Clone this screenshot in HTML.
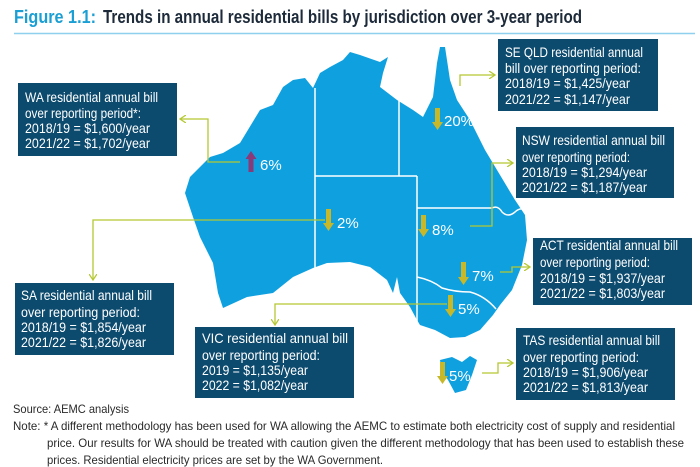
<!DOCTYPE html>
<html><head><meta charset="utf-8"><style>
html,body{margin:0;padding:0;background:#fff;}
svg{display:block;font-family:"Liberation Sans",sans-serif;}
</style></head><body>
<svg width="700" height="467" viewBox="0 0 700 467" xmlns="http://www.w3.org/2000/svg">
<defs>
<marker id="ah" markerWidth="8" markerHeight="8" refX="6" refY="4" orient="auto" markerUnits="userSpaceOnUse">
<path d="M0,0 L6,4 L0,8" fill="none" stroke="#b5c832" stroke-width="1.3"/></marker>
</defs>
<text x="14" y="23" font-size="18" font-weight="bold" fill="#1a9fd4" textLength="82" lengthAdjust="spacingAndGlyphs">Figure 1.1:</text>
<text x="103" y="23" font-size="18" font-weight="bold" fill="#1d2a3a" textLength="479" lengthAdjust="spacingAndGlyphs">Trends in annual residential bills by jurisdiction over 3-year period</text>
<line x1="14" y1="33.5" x2="695" y2="33.5" stroke="#8fd0ee" stroke-width="1.5"/>

<path fill="#0fa0e0" d="M185,193 L193,217 L200,237 L213,263 L218,293 L223,308 L247,297 L273,293 L293,277 L313,268 L327,263 L350,262 L370,267 L387,280 L393,293 L397,277 L400,293 L410,307 L417,320 L420,325 L435,330 L450,338 L465,337 L480,330 L493,315 L500,305 L512,290 L522,265 L527,240 L525,215 L515,200 L500,175 L485,150 L470,120 L457,100 L450,80 L445,47 L440,47 L437,63 L433,97 L423,117 L413,110 L397,100 L380,87 L383,73 L388,57 L380,62 L360,55 L350,52 L343,60 L330,67 L320,73 L313,88 L305,78 L293,80 L283,87 L273,105 L260,110 L240,143 L223,153 L210,157 L190,177 Z"/>
<path fill="#0fa0e0" d="M440,360 L452,357 L462,362 L470,356 L477,360 L472,375 L466,390 L455,393 L448,380 L442,372 Z"/>
<g stroke="#fff" stroke-width="1.5" fill="none">
<line x1="315" y1="88" x2="315" y2="268"/>
<line x1="315" y1="176" x2="417" y2="176"/>
<line x1="399" y1="100" x2="399" y2="176"/>
<line x1="417" y1="176" x2="417" y2="327"/>
<path d="M417,208 L492,208 Q498,205 502,212 Q508,218 515,212 Q520,207 526,210"/>
<path d="M417,277 Q432,280 442,288 Q455,292 470,292 Q485,296 496,309"/>
</g>
<g stroke="#b5c832" stroke-width="1.3" fill="none">
<polyline points="240,162 208,162 208,119 180,119" marker-end="url(#ah)"/>
<polyline points="460,86 460,75 495,75" marker-end="url(#ah)"/>
<polyline points="470,226 492,226 492,163 513,163" marker-end="url(#ah)"/>
<polyline points="325,220 93,220 93,280" marker-end="url(#ah)"/>
<polyline points="500,272 512,272 512,267 530,267" marker-end="url(#ah)"/>
<polyline points="447,304 275,304 275,325" marker-end="url(#ah)"/>
<polyline points="482,373 498,373 498,363 513,363" marker-end="url(#ah)"/>
</g>
<g fill="#c7b82a">
<path d="M326,209 h5 v14 h3 l-5.5,8 l-5.5,-8 h3 z"/>
<path d="M435,108 h5 v14 h3 l-5.5,8 l-5.5,-8 h3 z"/>
<path d="M421,215 h5 v14 h3 l-5.5,8 l-5.5,-8 h3 z"/>
<path d="M461,262 h5 v15 h3 l-5.5,8 l-5.5,-8 h3 z"/>
<path d="M448,295 h5 v14 h3 l-5.5,8 l-5.5,-8 h3 z"/>
<path d="M440,362 h5 v14 h3 l-5.5,8 l-5.5,-8 h3 z"/>
</g>
<path fill="#8a3a78" d="M248.5,172 v-13 h-3 l5.5,-8 l5.5,8 h-3 v13 z"/>
<g fill="#fff" font-size="15">
<text x="260" y="170">6%</text>
<text x="337" y="228">2%</text>
<text x="444" y="126">20%</text>
<text x="432" y="235">8%</text>
<text x="472" y="281">7%</text>
<text x="458" y="314">5%</text>
<text x="449" y="381">5%</text>
</g>

<g fill="#0c4a6e">
<rect x="18" y="83" width="159" height="73"/>
<rect x="498" y="39" width="160" height="72"/>
<rect x="516" y="127" width="158" height="71"/>
<rect x="533" y="238" width="159" height="67"/>
<rect x="15" y="283" width="159" height="72"/>
<rect x="195" y="327" width="159" height="71"/>
<rect x="516" y="328" width="159" height="72"/>
</g>
<g fill="#fff" font-size="14" lengthAdjust="spacingAndGlyphs">
<text x="25" y="102" textLength="133" lengthAdjust="spacingAndGlyphs">WA residential annual bill</text>
<text x="25" y="118" textLength="116" lengthAdjust="spacingAndGlyphs">over reporting period*:</text>
<text x="25" y="133" textLength="125" lengthAdjust="spacingAndGlyphs">2018/19 = $1,600/year</text>
<text x="25" y="148" textLength="125" lengthAdjust="spacingAndGlyphs">2021/22 = $1,702/year</text>

<text x="505" y="57" textLength="138" lengthAdjust="spacingAndGlyphs">SE QLD residential annual</text>
<text x="505" y="73" textLength="136" lengthAdjust="spacingAndGlyphs">bill over reporting period:</text>
<text x="505" y="88" textLength="125" lengthAdjust="spacingAndGlyphs">2018/19 = $1,425/year</text>
<text x="505" y="104" textLength="125" lengthAdjust="spacingAndGlyphs">2021/22 = $1,147/year</text>

<text x="522" y="145" textLength="143" lengthAdjust="spacingAndGlyphs">NSW residential annual bill</text>
<text x="522" y="162" textLength="108" lengthAdjust="spacingAndGlyphs">over reporting period:</text>
<text x="522" y="177" textLength="125" lengthAdjust="spacingAndGlyphs">2018/19 = $1,294/year</text>
<text x="522" y="192" textLength="125" lengthAdjust="spacingAndGlyphs">2021/22 = $1,187/year</text>

<text x="540" y="250" textLength="138" lengthAdjust="spacingAndGlyphs">ACT residential annual bill</text>
<text x="540" y="267" textLength="110" lengthAdjust="spacingAndGlyphs">over reporting period:</text>
<text x="540" y="283" textLength="125" lengthAdjust="spacingAndGlyphs">2018/19 = $1,937/year</text>
<text x="540" y="298" textLength="125" lengthAdjust="spacingAndGlyphs">2021/22 = $1,803/year</text>

<text x="21" y="300" textLength="131" lengthAdjust="spacingAndGlyphs">SA residential annual bill</text>
<text x="21" y="317" textLength="119" lengthAdjust="spacingAndGlyphs">over reporting period:</text>
<text x="21" y="332" textLength="125" lengthAdjust="spacingAndGlyphs">2018/19 = $1,854/year</text>
<text x="21" y="347" textLength="125" lengthAdjust="spacingAndGlyphs">2021/22 = $1,826/year</text>

<text x="202" y="343" textLength="146" lengthAdjust="spacingAndGlyphs">VIC residential annual bill</text>
<text x="202" y="360" textLength="118" lengthAdjust="spacingAndGlyphs">over reporting period:</text>
<text x="202" y="375" textLength="106" lengthAdjust="spacingAndGlyphs">2019 = $1,135/year</text>
<text x="202" y="390" textLength="106" lengthAdjust="spacingAndGlyphs">2022 = $1,082/year</text>

<text x="523" y="345" textLength="137" lengthAdjust="spacingAndGlyphs">TAS residential annual bill</text>
<text x="523" y="362" textLength="116" lengthAdjust="spacingAndGlyphs">over reporting period:</text>
<text x="523" y="377" textLength="125" lengthAdjust="spacingAndGlyphs">2018/19 = $1,906/year</text>
<text x="523" y="392" textLength="125" lengthAdjust="spacingAndGlyphs">2021/22 = $1,813/year</text>
</g>

<g fill="#2a2a2a" font-size="12">
<text x="13" y="413" textLength="116" lengthAdjust="spacingAndGlyphs">Source: AEMC analysis</text>
<text x="13" y="430" textLength="662" lengthAdjust="spacingAndGlyphs">Note: * A different methodology has been used for WA allowing the AEMC to estimate both electricity cost of supply and residential</text>
<text x="47" y="447" textLength="637" lengthAdjust="spacingAndGlyphs">price. Our results for WA should be treated with caution given the different methodology that has been used to establish these</text>
<text x="47" y="464" textLength="336" lengthAdjust="spacingAndGlyphs">prices. Residential electricity prices are set by the WA Government.</text>
</g>
</svg>
</body></html>
